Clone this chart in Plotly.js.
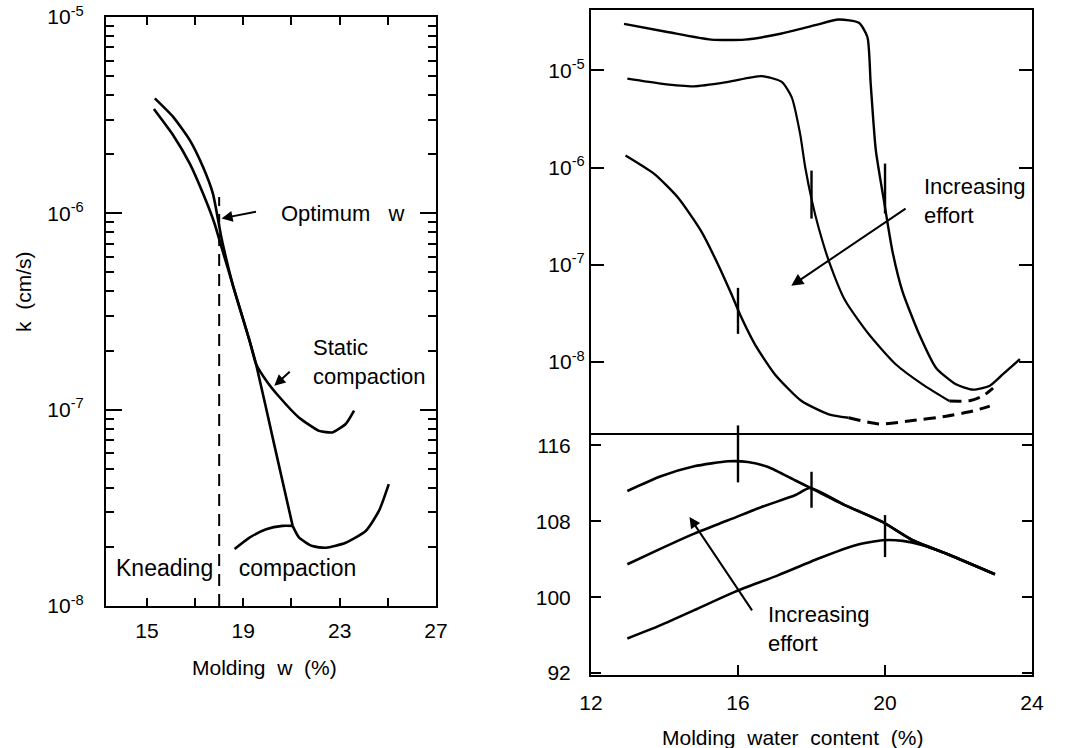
<!DOCTYPE html>
<html>
<head>
<meta charset="utf-8">
<script src="https://cdn.plot.ly/plotly-3.0.1.min.js"></script>
<style>html,body{margin:0;padding:0;background:#fff;}#chart{width:1080px;height:748px;}</style>
</head>
<body>
<div id="chart"></div>
<script>
// ---------- Left panel: k vs molding w ----------
const staticW = [15.33, 16.09, 16.78, 17.33, 17.74, 18.1, 18.57, 19.26, 19.53, 19.95, 20.5, 21.32, 22.15, 22.7, 23.25, 23.6];
const staticK = [3.85e-6, 3.1e-6, 2.36e-6, 1.72e-6, 1.26e-6, 7.45e-7, 4.3e-7, 2.25e-7, 1.71e-7, 1.41e-7, 1.16e-7, 9.1e-8, 7.8e-8, 7.66e-8, 8.45e-8, 9.9e-8];
const kneadW = [15.29, 16.09, 16.78, 17.33, 17.81, 18.1, 18.57, 19.26, 19.53, 20.29, 21.05];
const kneadK = [3.4e-6, 2.5e-6, 1.79e-6, 1.26e-6, 8.85e-7, 6.7e-7, 4.3e-7, 2.25e-7, 1.71e-7, 6.6e-8, 2.56e-8];
const kneadWetW = [21.05, 21.32, 21.87, 22.43, 23.25, 24.08, 24.63, 25.04];
const kneadWetK = [2.56e-8, 2.23e-8, 2.02e-8, 1.98e-8, 2.1e-8, 2.41e-8, 3.05e-8, 4.18e-8];
const kneadDryW = [18.64, 19.26, 19.95, 20.63, 21.05];
const kneadDryK = [1.95e-8, 2.23e-8, 2.46e-8, 2.56e-8, 2.56e-8];
const optLeftW = [18, 18];
const optLeftK = [1e-8, 1.21e-6];
const leftYTickVals = [1e-8, 1e-7, 1e-6, 1e-5];
const leftYTickText = ['10<sup>-8</sup>', '10<sup>-7</sup>', '10<sup>-6</sup>', '10<sup>-5</sup>'];
const leftYMinorVals = [2e-8,3e-8,4e-8,5e-8,6e-8,7e-8,8e-8,9e-8,2e-7,3e-7,4e-7,5e-7,6e-7,7e-7,8e-7,9e-7,2e-6,3e-6,4e-6,5e-6,6e-6,7e-6,8e-6,9e-6];
const leftXTickVals = [15, 19, 23, 27];
const leftXMinorVals = [17, 21, 25];

// ---------- Right panel top: k vs molding water content ----------
const aW = [12.9, 14.08, 15.27, 16.18, 17.19, 18.1, 18.74, 19.29, 19.52, 19.61, 19.75, 19.97, 20.2, 20.47, 20.93, 21.39, 21.93, 22.39, 22.85, 23.21, 23.67];
const aK = [3.0e-5, 2.48e-5, 2.07e-5, 2.07e-5, 2.39e-5, 2.91e-5, 3.33e-5, 3.08e-5, 2.2e-5, 7.3e-6, 1.5e-6, 4.57e-7, 1.39e-7, 5.4e-8, 1.93e-8, 8.7e-9, 5.9e-9, 5.2e-9, 5.7e-9, 7.5e-9, 1.07e-8];
const bW = [12.99, 13.9, 14.81, 15.73, 16.64, 17.19, 17.46, 17.69, 17.83, 18.01, 18.19, 18.47, 18.92, 19.56, 20.29, 21.02, 21.75];
const bK = [8.2e-6, 7.3e-6, 6.85e-6, 7.6e-6, 8.7e-6, 7.6e-6, 5.3e-6, 2.22e-6, 1.0e-6, 4.57e-7, 2.43e-7, 1.1e-7, 4.26e-8, 1.93e-8, 9.5e-9, 5.9e-9, 3.97e-9];
const bDashW = [21.75, 22.3, 22.66, 22.94];
const bDashK = [3.97e-9, 4.0e-9, 4.47e-9, 5.4e-9];
const cW = [12.94, 13.72, 14.36, 14.99, 15.45, 15.82, 16.09, 16.46, 17.0, 17.73, 18.47, 19.01];
const cK = [1.33e-6, 8.6e-7, 4.94e-7, 2.24e-7, 1.02e-7, 5.0e-8, 2.88e-8, 1.52e-8, 7.5e-9, 3.97e-9, 2.9e-9, 2.67e-9];
const cDashW = [19.01, 19.84, 20.75, 21.66, 22.39, 22.85];
const cDashK = [2.67e-9, 2.31e-9, 2.5e-9, 2.77e-9, 3.13e-9, 3.52e-9];
const rightTopTickVals = [1e-8, 1e-7, 1e-6, 1e-5];
const rightTopTickText = ['10<sup>-8</sup>', '10<sup>-7</sup>', '10<sup>-6</sup>', '10<sup>-5</sup>'];

// ---------- Right panel bottom: dry unit weight ----------
const d1W = [12.99, 13.9, 14.81, 15.73, 16.27, 16.82, 17.55, 18.01, 18.92, 19.93, 20.75, 21.66, 22.99];
const d1G = [111.19, 112.74, 113.79, 114.32, 114.24, 113.72, 112.32, 111.44, 109.68, 107.93, 106.0, 104.6, 102.42];
const d2W = [12.99, 13.9, 14.81, 15.73, 16.64, 17.55, 17.96, 18.92, 19.93, 20.75, 21.66, 22.99];
const d2G = [103.47, 105.12, 106.7, 108.1, 109.5, 110.74, 111.5, 109.68, 107.93, 106.0, 104.6, 102.42];
const d3W = [12.99, 13.9, 14.81, 15.91, 17.1, 18.19, 19.2, 19.93, 20.48, 21.02, 21.66, 22.99];
const d3G = [95.65, 97.05, 98.63, 100.56, 102.32, 104.07, 105.47, 106.0, 105.93, 105.47, 104.6, 102.42];
const rightBotTickVals = [92, 100, 108, 116];
const rightXTickVals = [12, 16, 20, 24];

// optimum markers (vertical bars)
const optW = [16, 18, 20];
const optTopK = [3.36e-8, 5.27e-7, 6.08e-7];
const optBotG = [115.1, 111.32, 106.44];

const FONT = 'Liberation Sans, Arial, Helvetica, sans-serif';
const BLK = '#000';
function curve(x, y, xa, ya, w, dash, sm) {
  return {x: x, y: y, xaxis: xa, yaxis: ya, type: 'scatter', mode: 'lines',
    line: {color: BLK, width: w, shape: 'spline', smoothing: sm === undefined ? 0.6 : sm, dash: dash || 'solid'},
    hoverinfo: 'skip', showlegend: false};
}
function bars(x, y, xa, ya, lens) {
  return {x: x, y: y, xaxis: xa, yaxis: ya, type: 'scatter', mode: 'markers', cliponaxis: false, showlegend: false, hoverinfo: 'skip',
    marker: {symbol: 'line-ns', size: lens.map(l => l / 1.4), color: BLK, opacity: 1, line: {color: BLK, width: 2.4}}};
}

const traces = [
  curve(staticW, staticK, 'x', 'y', 2.6, null, 0.5),
  curve(kneadW, kneadK, 'x', 'y', 2.6, null, 0.5),
  curve(kneadWetW, kneadWetK, 'x', 'y', 2.6, null, 0.6),
  curve(kneadDryW, kneadDryK, 'x', 'y', 2.6, null, 0.6),
  {x: optLeftW, y: optLeftK, xaxis: 'x', yaxis: 'y', type: 'scatter', mode: 'lines', line: {color: BLK, width: 2, dash: '12px,8px'}, hoverinfo: 'skip', showlegend: false},
  curve(aW, aK, 'x2', 'y2', 2.4),
  curve(bW, bK, 'x2', 'y2', 2.2),
  curve(bDashW, bDashK, 'x2', 'y2', 3, '12px,7px'),
  curve(cW, cK, 'x2', 'y2', 2.4),
  curve(cDashW, cDashK, 'x2', 'y2', 3, '12px,7px'),
  bars(optW, optTopK, 'x2', 'y2', [46, 48, 50]),
  curve(d1W, d1G, 'x3', 'y3', 2.6),
  curve(d2W, d2G, 'x3', 'y3', 2.6),
  curve(d3W, d3G, 'x3', 'y3', 2.6),
  bars(optW, optBotG, 'x3', 'y3', [57, 36, 42])
];

const axBase = {showline: true, linecolor: BLK, linewidth: 2, ticks: 'inside', tickcolor: BLK, tickwidth: 2,
  showgrid: false, zeroline: false, tickfont: {family: FONT, size: 21, color: BLK}};

const txt = (s) => ({family: FONT, size: s, color: BLK});

const layout = {
  width: 1080, height: 748,
  margin: {l: 0, r: 0, t: 0, b: 0},
  paper_bgcolor: '#fff', plot_bgcolor: '#fff',
  font: {family: FONT, size: 21, color: BLK},
  showlegend: false,
  xaxis: Object.assign({}, axBase, {domain: [0.0981, 0.4037], range: [13.3, 27], anchor: 'y',
    tickmode: 'array', tickvals: leftXTickVals, ticklen: 8, mirror: 'ticks',
    minor: {tickmode: 'array', tickvals: leftXMinorVals, ticks: 'inside', ticklen: 8, tickwidth: 2, tickcolor: BLK},
    ticklabelstandoff: 5}),
  yaxis: Object.assign({}, axBase, {domain: [0.1898, 0.9773], type: 'log', range: [-8, -5], anchor: 'x',
    tickmode: 'array', tickvals: leftYTickVals, ticktext: leftYTickText, ticklen: 16, mirror: 'ticks',
    minor: {tickmode: 'array', ticks: 'inside', ticklen: 8, tickwidth: 2, tickcolor: BLK, tickvals: leftYMinorVals},
    ticklabelstandoff: 16}),
  xaxis2: Object.assign({}, axBase, {domain: [0.5472, 0.9556], range: [12, 24], anchor: 'y2',
    showticklabels: false, ticks: '', mirror: true}),
  yaxis2: Object.assign({}, axBase, {domain: [0.4211, 0.9866], type: 'log', range: [-8.73, -4.38], anchor: 'x2',
    tickmode: 'array', tickvals: rightTopTickVals, ticktext: rightTopTickText, ticklen: 13, mirror: 'ticks',
    ticklabelstandoff: 0}),
  xaxis3: Object.assign({}, axBase, {domain: [0.5472, 0.9556], range: [12, 24], anchor: 'y3',
    tickmode: 'array', tickvals: rightXTickVals, ticklen: 10, mirror: false, ticklabelstandoff: 8}),
  yaxis3: Object.assign({}, axBase, {domain: [0.0976, 0.4211], range: [91.8, 117.3], anchor: 'x3',
    tickmode: 'array', tickvals: rightBotTickVals, ticklen: 10, mirror: 'ticks', ticklabelstandoff: 14}),
  annotations: [
    // axis titles
    {xref: 'paper', yref: 'paper', x: 23/1080, y: 1 - 292/748, xanchor: 'center', yanchor: 'middle', text: 'k\u00A0\u00A0(cm/s)', textangle: -90, showarrow: false, font: txt(21)},
    {xref: 'paper', yref: 'paper', x: 264/1080, y: 1 - 667/748, xanchor: 'center', yanchor: 'middle', text: 'Molding\u00A0 w\u00A0 (%)', showarrow: false, font: txt(21)},
    {xref: 'paper', yref: 'paper', x: 792/1080, y: 1 - 737/748, xanchor: 'center', yanchor: 'middle', text: 'Molding\u00A0 water\u00A0 content\u00A0 (%)', showarrow: false, font: txt(21)},
    // left panel labels
    {xref: 'x', yref: 'y', x: 20.5, y: -6.0, xanchor: 'left', yanchor: 'middle', text: 'Optimum\u00A0\u00A0 w', showarrow: false, font: txt(22)},
    {xref: 'x', yref: 'y', axref: 'x', ayref: 'y', x: 18.1, y: -6.026, ax: 19.59, ay: -5.99, text: '', showarrow: true, arrowhead: 2, arrowsize: 1.1, arrowwidth: 2, arrowcolor: BLK},
    {xref: 'x', yref: 'y', x: 21.82, y: -6.758, xanchor: 'left', yanchor: 'middle', align: 'left', text: 'Static<br>compaction', showarrow: false, font: txt(22)},
    {xref: 'x', yref: 'y', axref: 'x', ayref: 'y', x: 20.29, y: -6.878, ax: 20.99, ay: -6.80, text: '', showarrow: true, arrowhead: 2, arrowsize: 1.1, arrowwidth: 2, arrowcolor: BLK},
    {xref: 'x', yref: 'y', x: 13.62, y: -7.806, xanchor: 'left', yanchor: 'middle', text: 'Kneading\u00A0\u00A0\u00A0 compaction', showarrow: false, font: txt(23)},
    // right top
    {xref: 'x2', yref: 'y2', x: 21.01, y: -6.34, xanchor: 'left', yanchor: 'middle', align: 'left', text: 'Increasing<br>effort', showarrow: false, font: txt(22)},
    {xref: 'x2', yref: 'y2', axref: 'x2', ayref: 'y2', x: 17.45, y: -7.216, ax: 20.6, ay: -6.412, text: '', showarrow: true, arrowhead: 2, arrowsize: 1.2, arrowwidth: 2, arrowcolor: BLK},
    // right bottom
    {xref: 'x3', yref: 'y3', x: 16.75, y: 96.63, xanchor: 'left', yanchor: 'middle', align: 'left', text: 'Increasing<br>effort', showarrow: false, font: txt(22)},
    {xref: 'x3', yref: 'y3', axref: 'x3', ayref: 'y3', x: 14.68, y: 108.45, ax: 16.41, ay: 98.45, text: '', showarrow: true, arrowhead: 2, arrowsize: 1.1, arrowwidth: 2, arrowcolor: BLK}
  ]
};

Plotly.newPlot('chart', traces, layout, {staticPlot: true, displayModeBar: false});
</script>
</body>
</html>
